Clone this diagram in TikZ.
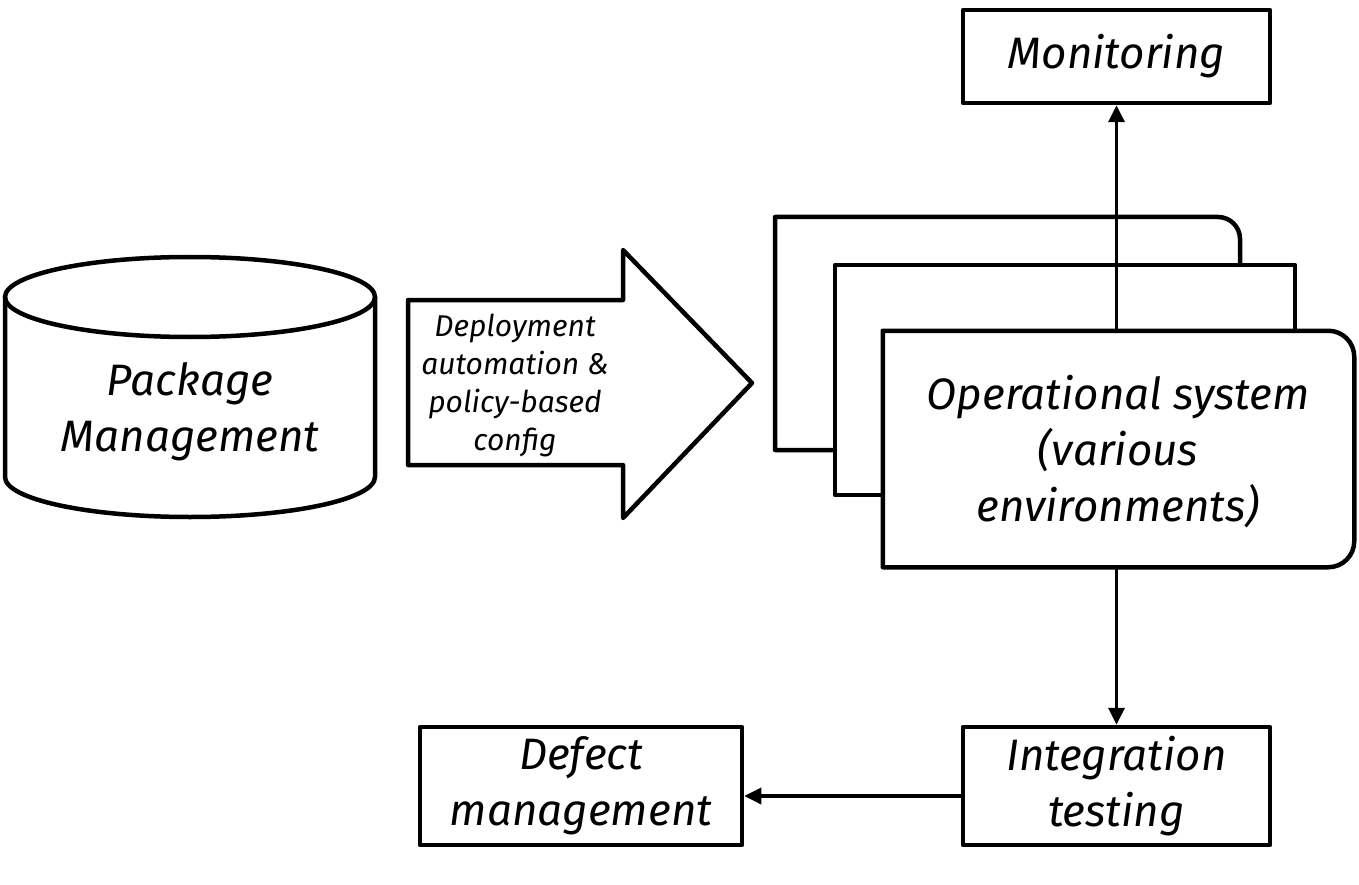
\documentclass[tikz,border=0pt]{standalone}
\usepackage{fontspec}
\setmainfont{Fira Sans}
\usetikzlibrary{arrows.meta}
\newcommand{\bigtxt}{\itshape\fontsize{44}{56}\selectfont}
\newcommand{\smalltxt}{\itshape\fontsize{30}{38}\selectfont}
\begin{document}
\begin{tikzpicture}[x=1pt,y=-1pt,line width=4.5pt,line join=round,line cap=round,
  box/.style={draw,rectangle,font=\bigtxt,align=center,inner sep=0pt},
  lbl/.style={font=\bigtxt,align=center,inner sep=0pt},
  slbl/.style={font=\smalltxt,align=center,inner sep=0pt},
  conn/.style={-{Triangle[length=17pt,width=16pt]},line width=3.5pt}]
\useasboundingbox[fill=white] (0,0) rectangle (1359,885);

% Monitoring
\node[box,minimum width=307pt,minimum height=93pt] (mon) at (1116.5,56.5) {Monitoring};

% stacked environment boxes (back ones)
\draw (835,450) -- (775,450) -- (775,217) -- (1218,217)
      arc[start angle=-90,end angle=0,radius=22] -- (1240,265);
\draw (885,495) -- (835,495) -- (835,265) -- (1295,265) -- (1295,333);

% front box
\node[minimum width=467pt,minimum height=232pt,inner sep=0pt] (ops) at (1118.5,449) {};
\draw[fill=white] (ops.north west) -- ([xshift=-26pt]ops.north east)
  arc[start angle=-90,end angle=0,radius=26] -- ([yshift=26pt]ops.south east)
  arc[start angle=0,end angle=90,radius=26] -- (ops.south west) -- cycle;
\node[lbl] (opstxt) at (1118,452) {Operational system\\(various\\environments)};

% Package management cylinder
\draw[fill=white] (5,297) -- (5,477) arc[start angle=180,end angle=0,x radius=185,y radius=40]
  -- (375,297);
\draw (190,297) ellipse[x radius=185,y radius=40];
\node[lbl] (pkg) at (190,412) {Package\\Management};

% block arrow
\draw (408,300) -- (623,300) -- (623,250) -- (752,383) -- (623,518) -- (623,465) -- (408,465) -- cycle;
\node[slbl] (dep) at (515,385) {Deployment\\automation \&\\policy-based\\config};

% Integration testing
\node[box,minimum width=307pt,minimum height=118pt] (int) at (1116.5,786) {Integration\\testing};

% Defect management
\node[box,minimum width=322pt,minimum height=118pt] (def) at (581,786) {Defect\\management};

% connectors
\draw[conn] (ops.north -| mon.south) -- (mon.south);
\draw[conn] (ops.south -| int.north) -- (int.north);
\draw[conn] ([yshift=-10pt]int.west) -- ([yshift=-10pt]def.east);
\end{tikzpicture}
\end{document}
